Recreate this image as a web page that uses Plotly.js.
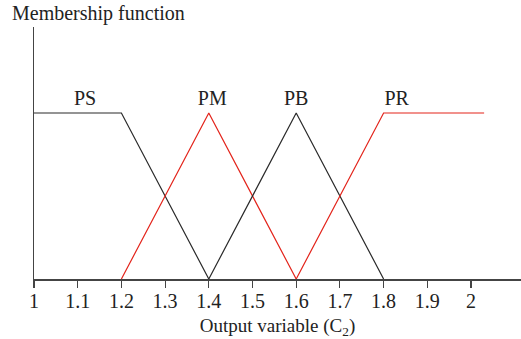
<!DOCTYPE html>
<html>
<head>
<meta charset="utf-8">
<script src="https://cdn.plot.ly/plotly-3.0.1.min.js"></script>
<style>
  html, body { margin: 0; padding: 0; background: #fff; }
  #chart { width: 521px; height: 339px; }
</style>
</head>
<body>
<div id="chart"></div>
<script>
// membership functions of the output variable C2
const psX = [1, 1.2, 1.4];
const psY = [1, 1, 0];
const pmX = [1.2, 1.4, 1.6];
const pmY = [0, 1, 0];
const pbX = [1.4, 1.6, 1.8];
const pbY = [0, 1, 0];
const prX = [1.6, 1.8, 2.03];
const prY = [0, 1, 1];

const setNames = ['PS', 'PM', 'PB', 'PR'];
const labelX = [1.117, 1.408, 1.6, 1.83];
const labelY = [1.08, 1.08, 1.08, 1.08];

const tickVals = [1, 1.1, 1.2, 1.3, 1.4, 1.5, 1.6, 1.7, 1.8, 1.9, 2];

const black = '#2a2a2a';
const red = '#e3241b';
const serif = '"Liberation Serif", "Times New Roman", serif';

const line = (x, y, color) => ({
  x: x, y: y, type: 'scatter', mode: 'lines',
  line: { color: color, width: 1.2 },
  hoverinfo: 'skip'
});

const data = [
  line(psX, psY, black),
  line(pmX, pmY, red),
  line(pbX, pbY, black),
  line(prX, prY, red),
  {
    x: labelX, y: labelY, text: setNames,
    type: 'scatter', mode: 'text',
    textfont: { family: serif, size: 20, color: '#222' },
    hoverinfo: 'skip'
  }
];

const layout = {
  width: 521,
  height: 339,
  margin: { l: 34, r: 0, t: 27, b: 60 },
  paper_bgcolor: '#fff',
  plot_bgcolor: '#fff',
  showlegend: false,
  font: { family: serif, color: '#222' },
  xaxis: {
    range: [1, 2.1144],
    tickvals: tickVals,
    ticktext: tickVals.map(String),
    ticks: 'outside',
    ticklen: 7,
    tickwidth: 1.2,
    tickcolor: '#444',
    ticklabelstandoff: -4,
    tickfont: { family: serif, size: 20, color: '#222' },
    showline: true,
    linecolor: '#444',
    linewidth: 1.5,
    showgrid: false,
    zeroline: false,
    title: { text: 'Output variable (C<sub>2</sub>)', font: { family: serif, size: 19, color: '#222' }, standoff: 8 }
  },
  yaxis: {
    range: [0, 1.518],
    showticklabels: false,
    ticks: '',
    showline: true,
    linecolor: '#444',
    linewidth: 1.5,
    showgrid: false,
    zeroline: false
  },
  annotations: [{
    text: 'Membership function',
    xref: 'paper', yref: 'paper',
    x: -0.05, y: 1.055,
    xanchor: 'left', yanchor: 'middle',
    showarrow: false,
    font: { family: serif, size: 20, color: '#222' }
  }]
};

Plotly.newPlot('chart', data, layout, { displayModeBar: false, staticPlot: true });
</script>
</body>
</html>
